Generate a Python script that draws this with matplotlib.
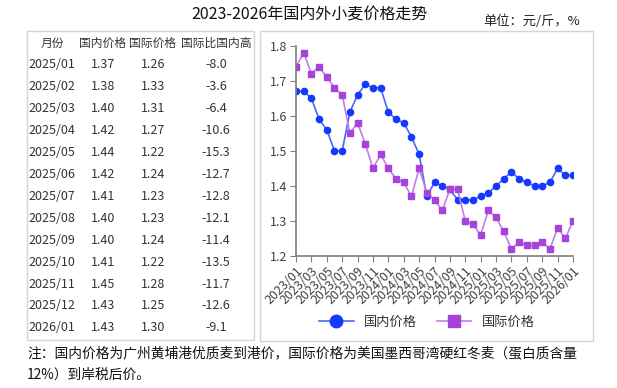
import matplotlib.pyplot as plt
from matplotlib.patches import Rectangle
import numpy as np

plt.rcParams['font.family'] = ['Noto Sans CJK SC', 'DejaVu Sans']

months = [f"{y}/{m:02d}" for y in (2023, 2024, 2025) for m in range(1, 13)] + ["2026/01"]

domestic = [1.67, 1.67, 1.65, 1.59, 1.56, 1.50, 1.50, 1.61, 1.66, 1.69, 1.68, 1.68,
            1.61, 1.59, 1.58, 1.54, 1.49, 1.37, 1.41, 1.40, 1.39, 1.36, 1.36, 1.36,
            1.37, 1.38, 1.40, 1.42, 1.44, 1.42, 1.41, 1.40, 1.40, 1.41, 1.45, 1.43,
            1.43]
international = [1.74, 1.78, 1.72, 1.74, 1.71, 1.68, 1.66, 1.55, 1.58, 1.52, 1.45, 1.49,
                 1.45, 1.42, 1.41, 1.37, 1.45, 1.38, 1.36, 1.33, 1.39, 1.39, 1.30, 1.29,
                 1.26, 1.33, 1.31, 1.27, 1.22, 1.24, 1.23, 1.23, 1.24, 1.22, 1.28, 1.25,
                 1.30]

table_header = ["月份", "国内价格", "国际价格", "国际比国内高"]
table_months = ["2025/01", "2025/02", "2025/03", "2025/04", "2025/05", "2025/06", "2025/07",
                "2025/08", "2025/09", "2025/10", "2025/11", "2025/12", "2026/01"]
table_domestic = ["1.37", "1.38", "1.40", "1.42", "1.44", "1.42", "1.41",
                  "1.40", "1.40", "1.41", "1.45", "1.43", "1.43"]
table_intl = ["1.26", "1.33", "1.31", "1.27", "1.22", "1.24", "1.23",
              "1.23", "1.24", "1.22", "1.28", "1.25", "1.30"]
table_diff = ["-8.0", "-3.6", "-6.4", "-10.6", "-15.3", "-12.7", "-12.8",
              "-12.1", "-11.4", "-13.5", "-11.7", "-12.6", "-9.1"]

W, H = 617, 388
fig = plt.figure(figsize=(W / 100, H / 100), dpi=100)


def fx(px):
    return px / W


def fy(py):
    return 1 - py / H


# boxes
fig.patches.append(Rectangle((fx(27), fy(340)), fx(254) - fx(27), fy(31) - fy(340),
                             transform=fig.transFigure, fill=False, edgecolor='#d4d4d4', lw=1))
fig.patches.append(Rectangle((fx(260), fy(341)), fx(593) - fx(260), fy(31) - fy(341),
                             transform=fig.transFigure, fill=False, edgecolor='#d4d4d4', lw=1))

# titles
fig.text(fx(309), fy(15), "2023-2026年国内外小麦价格走势", ha='center', va='center',
         fontsize=11.5, color='#111111')
fig.text(fx(580), fy(21), "单位：元/斤，%", ha='right', va='center', fontsize=9.5, color='#222222')

# table
col_x = [52, 103, 153, 216]
for cx, h in zip(col_x, table_header):
    fig.text(fx(cx), fy(43), h, ha='center', va='center', fontsize=8.5, color='#333333')
for i in range(len(table_months)):
    ry = fy(65 + i * 21.9)
    row = [table_months[i], table_domestic[i], table_intl[i], table_diff[i]]
    for cx, v in zip(col_x, row):
        fig.text(fx(cx), ry, v, ha='center', va='center', fontsize=9, color='#333333')

# chart
ax = fig.add_axes([fx(296), fy(256), fx(573) - fx(296), fy(45.7) - fy(256)])
x = np.arange(len(months))
ax.plot(x, domestic, color='#4a68f5', lw=1.2, marker='o', ms=4.5,
        mfc='#1538ff', mec='#1538ff', label='国内价格')
ax.plot(x, international, color='#c47de8', lw=1.2, marker='s', ms=4.2,
        mfc='#a743db', mec='#a743db', label='国际价格')
ax.set_xlim(0, len(months) - 1)
ax.set_ylim(1.2, 1.8)
ax.set_yticks([1.2, 1.3, 1.4, 1.5, 1.6, 1.7, 1.8])
ax.set_yticklabels(["1.2", "1.3", "1.4", "1.5", "1.6", "1.7", "1.8"])
ax.set_xticks(x[::2])
ax.set_xticklabels(months[::2], rotation=45, ha='right', rotation_mode='anchor')
for s in ['top', 'right']:
    ax.spines[s].set_visible(False)
for s in ['left', 'bottom']:
    ax.spines[s].set_color('#7f7f7f')
    ax.spines[s].set_linewidth(1.2)
ax.tick_params(colors='#7f7f7f', labelcolor='#404040', labelsize=9, length=4, pad=2)
ax.patch.set_alpha(0)

fig.legend(loc='center', bbox_to_anchor=(fx(427), fy(322)), ncol=2, frameon=False,
           fontsize=9.5, markerscale=2, handlelength=2.6, columnspacing=1.5,
           labelcolor='#333333')

# footnote
fig.text(fx(27), fy(353), "注：国内价格为广州黄埔港优质麦到港价，国际价格为美国墨西哥湾硬红冬麦（蛋白质含量",
         ha='left', va='center', fontsize=9.9, color='#111111')
fig.text(fx(27), fy(375), "12%）到岸税后价。", ha='left', va='center', fontsize=9.9, color='#111111')

fig.savefig("out.png", dpi=100)
